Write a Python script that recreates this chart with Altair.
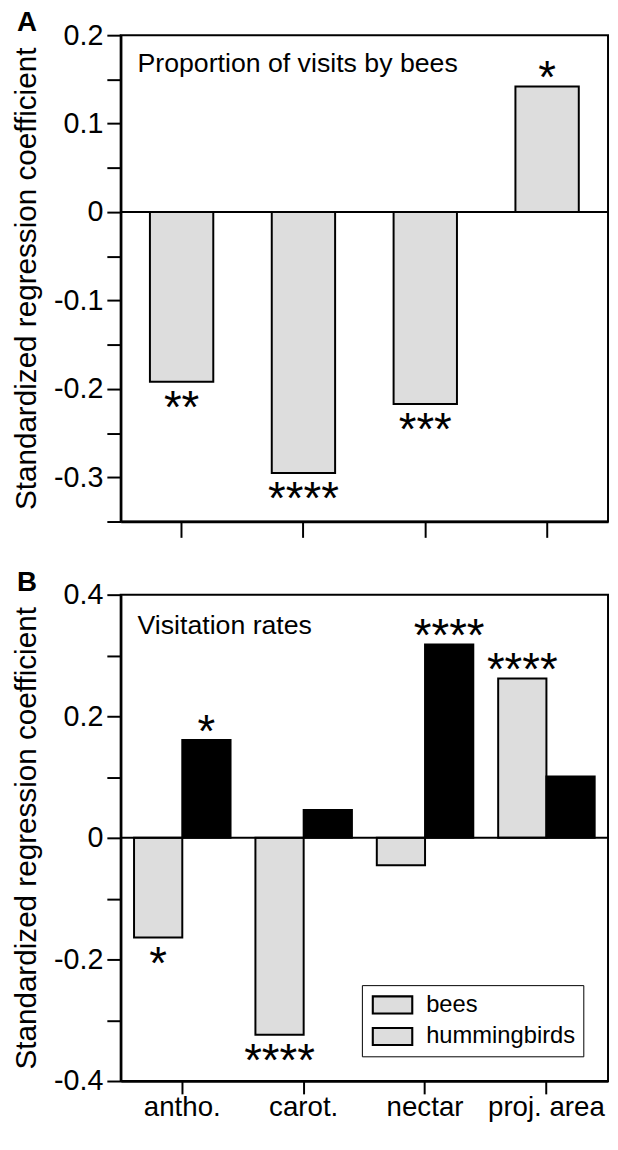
import altair as alt
import pandas as pd

# ---------------- data ----------------
categories = ["antho.", "carot.", "nectar", "proj. area"]

# Panel A: proportion of visits by bees
share_values = [-0.192, -0.295, -0.217, 0.142]
share_sig = ["**", "****", "***", "*"]

# Panel B: visitation rates
series = ["bees", "hummingbirds"]
rate_bees = [-0.164, -0.324, -0.045, 0.262]
rate_hummingbirds = [0.161, 0.046, 0.318, 0.101]
sig_bees = ["*", "****", "", "****"]
sig_hummingbirds = ["*", "", "****", ""]

ticks_a = [-0.35, -0.3, -0.25, -0.2, -0.15, -0.1, -0.05, 0.0, 0.05, 0.1, 0.15, 0.2]
ticks_b = [-0.4, -0.3, -0.2, -0.1, 0.0, 0.1, 0.2, 0.3, 0.4]

# ---------------- style ----------------
FONT = "Liberation Sans"
GRAY = "#dddddd"
W, H = 493, 492
STAR_SIZE = 46
STAR_BELOW, STAR_ABOVE = 28, -7
SWATCH = "M-2,-0.92H2V0.92H-2Z"
SWATCH_RING = "M-2,-0.92H2V0.92H-2Z M-1.8,-0.72V0.72H1.8V-0.72Z"
LEG = dict(title=None, orient="none", legendX=244, legendY=395, padding=8, rowPadding=8,
           symbolSize=441, symbolOffset=11, labelOffset=22, labelFontSize=24,
           labelFont=FONT, labelLimit=300, symbolOpacity=1)

dfa = pd.DataFrame({"cat": categories, "value": share_values, "sig": share_sig})
dfb = pd.DataFrame({
    "cat": categories * 2,
    "series": [series[0]] * 4 + [series[1]] * 4,
    "value": rate_bees + rate_hummingbirds,
    "sig": sig_bees + sig_hummingbirds,
})
one = pd.DataFrame({"k": [0]})


def label_expr(step):
    return (f"round(datum.value*{step}) % 2 == 0 ? "
            "(abs(datum.value) < 1e-9 ? '0' : "
            "((datum.value < 0 ? '-' : '') + format(abs(datum.value), '.1f'))) : ''")


def y_axis(values, step):
    return alt.Axis(title="Standardized regression coefficient", values=values,
                    labelExpr=label_expr(step), tickSize=14, labelPadding=4,
                    titlePadding=12, labelFontSize=29, titleFontSize=30)


def letter(t):
    return alt.Chart(one).mark_text(text=t, align="left", baseline="alphabetic",
                                    fontSize=28, fontWeight="bold", font=FONT,
                                    color="black").encode(x=alt.value(-105), y=alt.value(-4))


def note(t, y):
    return alt.Chart(one).mark_text(text=t, align="left", baseline="middle", fontSize=27,
                                    font=FONT, color="black").encode(
        x=alt.value(17), y=alt.value(y))


# ---------------- panel A ----------------
xa = alt.X("cat:N", sort=categories, title=None,
           scale=alt.Scale(paddingInner=0.48, paddingOuter=0.24),
           axis=alt.Axis(labels=False, tickSize=16))
ya = alt.Y("value:Q", scale=alt.Scale(domain=[-0.35, 0.2], nice=False),
           axis=y_axis(ticks_a, 20))

bars_a = alt.Chart(dfa).mark_bar(fill=GRAY, stroke="black", strokeWidth=2).encode(
    x=xa, y=ya, y2=alt.datum(0))
zero_a = alt.Chart(one).mark_rule(color="black", strokeWidth=2).encode(y=alt.datum(0))
stars_a_neg = alt.Chart(dfa).transform_filter("datum.value < 0").mark_text(
    fontSize=STAR_SIZE, font=FONT, baseline="middle", dy=STAR_BELOW, color="black").encode(
    x=xa, y=ya, text="sig:N")
stars_a_pos = alt.Chart(dfa).transform_filter("datum.value > 0").mark_text(
    fontSize=STAR_SIZE, font=FONT, baseline="middle", dy=STAR_ABOVE, color="black").encode(
    x=xa, y=ya, text="sig:N")

panel_a = alt.layer(bars_a, zero_a, stars_a_neg, stars_a_pos,
                    note("Proportion of visits by bees", 29), letter("A")).properties(
    width=W, height=H)

# ---------------- panel B ----------------
xb = alt.X("cat:N", sort=categories, title=None,
           scale=alt.Scale(paddingInner=0.205, paddingOuter=0.11),
           axis=alt.Axis(labelAngle=0, tickSize=13, labelPadding=0, labelFontSize=28))
xo = alt.XOffset("series:N", sort=series, scale=alt.Scale(paddingInner=0, paddingOuter=0))
yscale_b = alt.Scale(domain=[-0.4, 0.4], nice=False)
yb = alt.Y("value:Q", scale=yscale_b, axis=y_axis(ticks_b, 10))

# legend swatches (grey fill + box); the marks sit hidden inside the bars
swatch_layer = alt.Chart(dfb).transform_calculate(mid="datum.value / 2").mark_point(
    filled=True, fill=GRAY, strokeWidth=0, size=441, opacity=1).encode(
    x=xb, xOffset=xo, y=alt.Y("mid:Q", scale=yscale_b, axis=y_axis(ticks_b, 10)),
    shape=alt.Shape("series:N", scale=alt.Scale(range=[SWATCH, SWATCH]),
                    legend=alt.Legend(strokeColor="black", fillColor="white",
                                      labelColor="black", symbolFillColor=GRAY,
                                      symbolStrokeWidth=0, **LEG)))

# bars; their legend draws the black outline of each swatch on top
bars_b = alt.Chart(dfb).mark_bar(stroke="black", strokeWidth=2).encode(
    x=xb, xOffset=xo, y=yb, y2=alt.datum(0),
    fill=alt.condition(f"datum.series == '{series[0]}'", alt.value(GRAY), alt.value("black")),
    opacity=alt.Opacity("series:N", scale=alt.Scale(domain=series, range=[1, 1]),
                        legend=alt.Legend(symbolType=SWATCH_RING, labelColor="transparent",
                                          symbolFillColor="black", symbolStrokeWidth=0,
                                          **LEG)))
zero_b = alt.Chart(one).mark_rule(color="black", strokeWidth=2).encode(y=alt.datum(0))
stars_b_neg = alt.Chart(dfb).transform_filter("datum.value < 0 && datum.sig != ''").mark_text(
    fontSize=STAR_SIZE, font=FONT, baseline="middle", dy=STAR_BELOW, color="black").encode(
    x=xb, xOffset=xo, y=yb, text="sig:N")
stars_b_pos = alt.Chart(dfb).transform_filter("datum.value > 0 && datum.sig != ''").mark_text(
    fontSize=STAR_SIZE, font=FONT, baseline="middle", dy=STAR_ABOVE, color="black").encode(
    x=xb, xOffset=xo, y=yb, text="sig:N")

panel_b = alt.layer(swatch_layer, bars_b, zero_b, stars_b_neg, stars_b_pos,
                    note("Visitation rates", 32), letter("B")).properties(width=W, height=H)

chart = alt.vconcat(panel_a, panel_b, spacing=29).resolve_legend(
    opacity="independent", shape="independent"
).properties(
    padding={"left": 3, "top": -6, "right": 0, "bottom": -4}
).configure_view(stroke="black", strokeWidth=2).configure_axis(
    domainColor="black", domainWidth=2.5, tickColor="black", tickWidth=2,
    labelFont=FONT, titleFont=FONT, labelColor="black", titleColor="black",
    titleFontWeight="normal", grid=False
)

chart.save("out.html", embed_options={"renderer": "svg", "actions": False})
